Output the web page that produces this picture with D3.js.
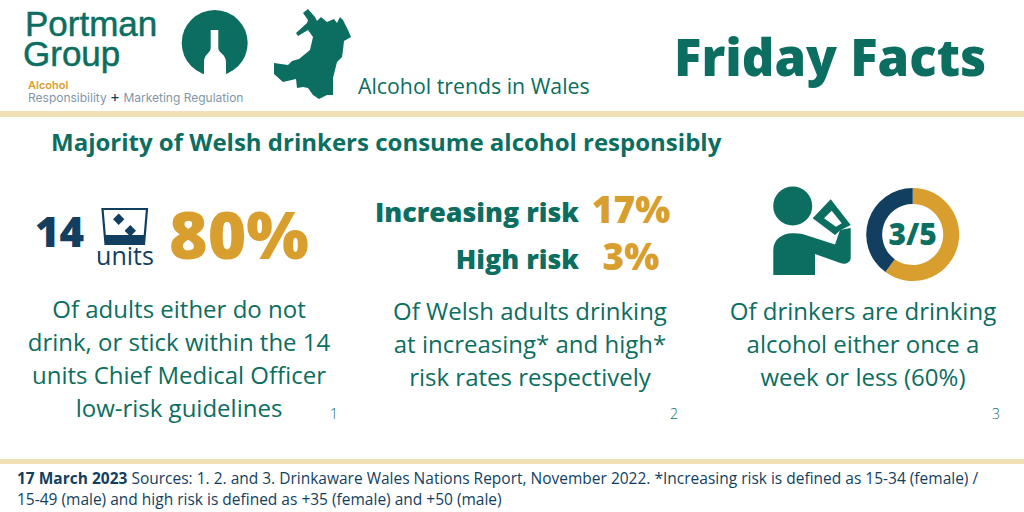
<!DOCTYPE html>
<html>
<head>
<meta charset="utf-8">
<script src="https://cdn.jsdelivr.net/npm/d3@7"></script>
<style>
html, body { margin: 0; padding: 0; background: #fff; overflow: hidden; }
text { font-family: "Open Sans", sans-serif; }
</style>
</head>
<body>
<div id="chart"></div>
<script>
var green = "#0b6e60", navy = "#123f5f", gold = "#d99f2e", sand = "#f3dfb8", grey = "#7f97a6";

var drinkCategories = ["Once a week or less", "More often"];
var drinkValues = [60, 40];
var drinkColors = [gold, navy];

var riskLabels = ["Increasing risk", "High risk"];
var riskValues = ["17%", "3%"];

var captions = [
    ["Of adults either do not", "drink, or stick within the 14", "units Chief Medical Officer", "low-risk guidelines"],
    ["Of Welsh adults drinking", "at increasing* and high*", "risk rates respectively"],
    ["Of drinkers are drinking", "alcohol either once a", "week or less (60%)"]
];
var captionX = [179, 530, 863];
var captionY = [318, 320, 320];
var refs = ["1", "2", "3"];
var refX = [334, 674, 996];

// outline of Wales
var walesShape = [[303,13],[308,9],[315,17],[317,21],[321,17],[327,22],[334,19],[337,23],[340,17],[343,20],[348,30],[351,37],[344,41],[343,50],[342,57],[337,62],[335,70],[333,78],[333,95],[327,95],[319,99],[313,95],[308,88],[303,87],[297,88],[296,79],[283,82],[274,74],[274,63],[288,65],[292,61],[299,59],[310,50],[313,37],[308,30],[298,36],[296,33],[307,23],[308,20]];

var svg = d3.select("#chart").append("svg")
    .attr("width", 1024)
    .attr("height", 512);

svg.append("rect").attr("width", 1024).attr("height", 512).attr("fill", "#fff");

function label(x, y, str, size, color, weight, anchor, family) {
    var t = svg.append("text")
        .attr("x", x).attr("y", y)
        .attr("font-size", size)
        .attr("fill", color)
        .attr("font-weight", weight || 400)
        .attr("text-anchor", anchor || "start")
        .text(str);
    if (family) t.style("font-family", family);
    return t;
}

// header
label(25, 36, "Portman", 35, green, 400, "start", "Liberation Sans").attr("stroke", green).attr("stroke-width", 0.5);
label(23, 65.5, "Group", 35, green, 400, "start", "Liberation Sans").attr("stroke", green).attr("stroke-width", 0.5);
label(28, 88.5, "Alcohol", 11, gold, 600, "start", "Inter");
var tag = label(28, 102, "", 12, grey, 400, "start", "Inter");
tag.append("tspan").text("Responsibility ");
tag.append("tspan").attr("font-size", 15).attr("fill", navy).text("+");
tag.append("tspan").text(" Marketing Regulation");

svg.append("circle").attr("cx", 214.7).attr("cy", 43).attr("r", 33).attr("fill", green);
svg.append("path")
    .attr("d", "M210.7 30H218.3V48C218.3 53 226 54 226 62V77H204V62C204 54 210.7 53 210.7 48Z")
    .attr("fill", "#fff");

svg.append("path")
    .attr("d", d3.line().curve(d3.curveLinearClosed)(walesShape))
    .attr("fill", green);

label(358, 94, "Alcohol trends in Wales", 21.3, green);
label(674, 76, "Friday Facts", 50.8, green, 800);

svg.append("rect").attr("x", 0).attr("y", 111).attr("width", 1024).attr("height", 6).attr("fill", sand);
svg.append("rect").attr("x", 0).attr("y", 459).attr("width", 1024).attr("height", 5).attr("fill", sand);

label(51, 151, "Majority of Welsh drinkers consume alcohol responsibly", 24, green, 700);

// left stat
label(35, 247, "14", 42, navy, 800);
svg.append("path")
    .attr("d", "M102.5 209H147L144 244H105.5Z")
    .attr("fill", "none").attr("stroke", navy).attr("stroke-width", 2.2);
svg.append("path").attr("d", "M104.5 235H145V244.5H105.5Z").attr("fill", navy);
svg.append("path").attr("d", "M118.7 213.6L124.4 219.3L118.7 225L113 219.3Z").attr("fill", navy);
svg.append("path").attr("d", "M130.3 225L136 230.7L130.3 236.4L124.6 230.7Z").attr("fill", navy);
label(125, 265, "units", 25, navy, 400, "middle");
label(169, 259, "80%", 66, gold, 800);

// middle stat
riskLabels.forEach(function(d, i) {
    label(579, 222 + i * 47, d, 26.8, green, 800, "end");
    label(631, 223 + i * 47, riskValues[i], 37, gold, 800, "middle");
});

// person icon
svg.append("circle").attr("cx", 792.7).attr("cy", 206).attr("r", 19.5).attr("fill", green);
svg.append("path")
    .attr("d", "M773.3 275V250C773.3 239 783 233.3 792 233.3C796 233.3 800 233.5 804 234.5L835 244.5L840 230L850.7 228V258C850.7 262 846 265 841 263.3L815 254V275Z")
    .attr("fill", green);
svg.append("path")
    .attr("d", "M812.7 218.3L830.7 199.3L850.7 225L840 230.5L835 235Z")
    .attr("fill", green);
svg.append("path")
    .attr("d", "M824 218.3L831.7 210.7L841.7 223.3L836 226.7Z")
    .attr("fill", "#fff");

// donut, clockwise from the top
var pie = d3.pie().sort(null);
var arc = d3.arc().innerRadius(30.5).outerRadius(46.5);
var donut = svg.append("g").attr("transform", "translate(912.7,234.5)");
donut.selectAll("path")
    .data(pie(drinkValues))
    .enter()
    .append("path")
    .attr("d", arc)
    .attr("fill", function(d, i) { return drinkColors[i]; });
donut.append("text")
    .attr("text-anchor", "middle")
    .attr("y", 10.5)
    .attr("font-size", 30)
    .attr("font-weight", 800)
    .attr("fill", green)
    .text("3/5");

// captions
captions.forEach(function(lines, c) {
    lines.forEach(function(line, i) {
        label(captionX[c], captionY[c] + i * 33, line, 24, green, 400, "middle");
    });
});
refs.forEach(function(r, i) {
    label(refX[i], 419, r, 14, green, 300, "middle");
});

// footer
var foot = label(17, 484, "", 15.5, navy);
foot.append("tspan").attr("font-weight", 700).text("17 March 2023");
foot.append("tspan").text(" Sources: 1. 2. and 3. Drinkaware Wales Nations Report, November 2022. *Increasing risk is defined as 15-34 (female) /");
label(17, 505, "15-49 (male) and high risk is defined as +35 (female) and +50 (male)", 15.5, navy);
</script>
</body>
</html>
